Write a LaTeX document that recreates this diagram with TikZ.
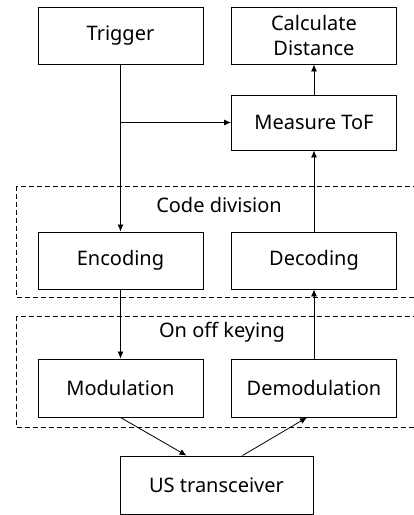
\documentclass[tikz,border=0pt]{standalone}
\usepackage{fontspec}
\setmainfont{Noto Sans}
\usetikzlibrary{arrows.meta}
\begin{document}
\begin{tikzpicture}[x=1pt,y=-1pt,
  blk/.style={draw,line width=0.9pt,minimum width=165pt,minimum height=57pt,
    inner sep=0pt,align=center,font=\fontsize{20}{25}\selectfont},
  grp/.style={draw,dashed,line width=0.8pt,dash pattern=on 5pt off 3pt},
  lbl/.style={font=\fontsize{20}{25}\selectfont},
  conn/.style={line width=0.8pt,-{Latex[length=7pt,width=6pt]}}]
\useasboundingbox (0,0) rectangle (414,515);
\begin{scope}
\clip (0,0) rectangle (414,515);
\draw[grp] (16,186) rectangle (430,297);
\draw[grp] (16,316) rectangle (430,427);
\end{scope}
\node[lbl] (cdl) at (219,205) {Code division};
\node[lbl] (ookl) at (222,332) {On off keying};
\node[blk] (trig) at (120.5,35.5) {Trigger};
\node[blk] (calc) at (314,35.5) {Calculate\\Distance};
\node[blk,minimum height=55pt] (tof) at (314,122.5) {Measure ToF};
\node[blk] (enc) at (120.5,260.5) {Encoding};
\node[blk] (dec) at (314,260.5) {Decoding};
\node[blk,minimum height=58pt] (mod) at (120.5,388) {Modulation};
\node[blk,minimum height=58pt] (dem) at (314,388) {Demodulation};
\node[blk,minimum width=193pt,minimum height=58pt] (us) at (216.5,485) {US transceiver};
\coordinate (br) at (trig.south |- tof.west);
\draw[conn] (trig.south) -- (enc.north);
\draw[conn] (br) -- (tof.west);
\draw[conn] (tof.north) -- (calc.south);
\draw[conn] (dec.north) -- (tof.south);
\draw[conn] (enc.south) -- (mod.north);
\draw[conn] (dem.north) -- (dec.south);
\draw[conn] (mod.south) -- ([xshift=-30pt]us.north);
\draw[conn] ([xshift=26pt]us.north) -- ([xshift=-7pt]dem.south);
\end{tikzpicture}
\end{document}
